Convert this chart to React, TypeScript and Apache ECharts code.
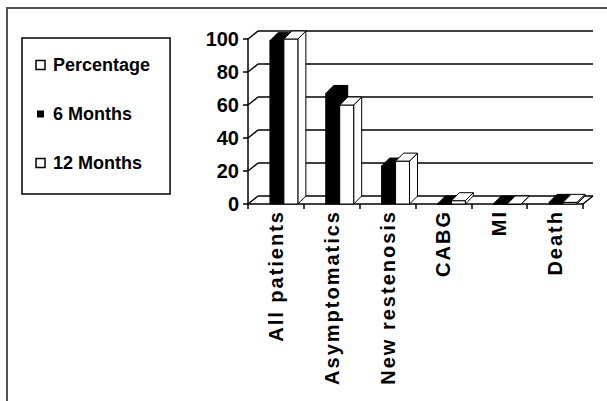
import React, { useEffect, useRef } from 'react';
import * as echarts from 'echarts';

const categories = ['All patients', 'Asymptomatics', 'New restenosis', 'CABG', 'MI', 'Death'];
const percentage: (number | null)[] = [null, null, null, null, null, null];
const sixMonths: number[] = [99, 67, 23, 0, 0, 1];
const twelveMonths: number[] = [100, 60, 26, 2, 0, 1];
const yTicks: number[] = [0, 20, 40, 60, 80, 100];
const seriesNames = ['Percentage', '6 Months', '12 Months'];

const WALL_DX = 10;
const WALL_DY = -8;
const BAR_DX = 8;
const BAR_DY = -8;

function barSeries(name: string, values: (number | null)[], slot: number, fill: string) {
  return {
    type: 'custom',
    name,
    z: 3,
    coordinateSystem: 'cartesian2d',
    itemStyle: { color: fill, borderColor: '#000' },
    encode: { x: 0, y: 1 },
    data: values
      .map((v, i) => [i, v])
      .filter((d) => d[1] !== null),
    renderItem: (params: any, api: any) => {
      const i = api.value(0) as number;
      const v = api.value(1) as number;
      if (v === null || isNaN(v)) return null;
      const b = api.coord([i, 0]);
      const t = api.coord([i, v]);
      const catW = api.size([1, 0])[0];
      const w = catW * 0.25;
      const x0 = b[0] - 1.5 * w + slot * w + 1;
      const x1 = x0 + w;
      const ty = t[1];
      const by = b[1];
      const style = { fill, stroke: '#000', lineWidth: 1 };
      return {
        type: 'group',
        children: [
          {
            type: 'polygon',
            shape: { points: [[x1, ty], [x1 + BAR_DX, ty + BAR_DY], [x1 + BAR_DX, by + BAR_DY], [x1, by]] },
            style,
          },
          { type: 'rect', shape: { x: x0, y: ty, width: w, height: by - ty }, style },
          {
            type: 'polygon',
            shape: { points: [[x0, ty], [x0 + BAR_DX, ty + BAR_DY], [x1 + BAR_DX, ty + BAR_DY], [x1, ty]] },
            style,
          },
        ],
      };
    },
  };
}

export default function App() {
  const ref = useRef<HTMLDivElement>(null);
  useEffect(() => {
    const el = ref.current!;
    const chart = echarts.init(el, null, { renderer: 'svg' });
    const wallSeries = {
      type: 'custom',
      name: '__wall',
      z: 1,
      silent: true,
      coordinateSystem: 'cartesian2d',
      encode: { x: 0, y: 1 },
      data: yTicks.map((v) => [0, v]),
      renderItem: (params: any, api: any) => {
        const v = api.value(1) as number;
        const y = api.coord([0, v])[1];
        const cs = params.coordSys;
        const ls = { stroke: '#000', lineWidth: 1.5 };
        const children: any[] = [
          { type: 'line', shape: { x1: cs.x, y1: y, x2: cs.x + WALL_DX, y2: y + WALL_DY }, style: ls },
          {
            type: 'line',
            shape: { x1: cs.x + WALL_DX, y1: y + WALL_DY, x2: cs.x + cs.width + WALL_DX, y2: y + WALL_DY },
            style: ls,
          },
        ];
        if (v === 0) {
          children.push({
            type: 'line',
            shape: { x1: cs.x + cs.width, y1: y, x2: cs.x + cs.width + WALL_DX, y2: y + WALL_DY },
            style: ls,
          });
        }
        return { type: 'group', children };
      },
    };

    chart.setOption({
      animation: false,
      backgroundColor: '#fff',
      graphic: [
        {
          type: 'rect',
          silent: true,
          z: 0,
          shape: { x: 7, y: 8, width: 640, height: 440 },
          style: { fill: 'none', stroke: '#555', lineWidth: 2 },
        },
      ],
      legend: {
        show: true,
        orient: 'vertical',
        left: 22,
        top: 38,
        selectedMode: false,
        backgroundColor: '#fff',
        borderColor: '#000',
        borderWidth: 1.5,
        borderRadius: 0,
        padding: [17, 20, 21, 13],
        itemGap: 29,
        itemWidth: 9,
        itemHeight: 9,
        textStyle: {
          fontFamily: 'Liberation Sans, Arial, sans-serif',
          fontWeight: 'bold',
          fontSize: 18,
          lineHeight: 20,
          color: '#000',
          padding: [0, 0, 0, 3],
        },
        data: [
          { name: seriesNames[0], icon: 'rect', itemStyle: { color: '#fff', borderColor: '#000', borderWidth: 1.5 } },
          { name: seriesNames[1], icon: 'rect', itemStyle: { color: '#000', borderColor: '#fff', borderWidth: 2 } },
          { name: seriesNames[2], icon: 'rect', itemStyle: { color: '#fff', borderColor: '#000', borderWidth: 1.5 } },
        ],
      },
      grid: { left: 248, right: 24, top: 39, bottom: 197, containLabel: false },
      xAxis: {
        type: 'category',
        data: categories,
        boundaryGap: true,
        axisLine: { show: true, lineStyle: { color: '#000', width: 1.5 } },
        axisTick: { show: true, interval: 0, length: 5, alignWithLabel: false, lineStyle: { color: '#000', width: 1.5 } },
        axisLabel: {
          interval: 0,
          rotate: 90,
          margin: 6,
          padding: [16, 0, 0, 0],
          color: '#000',
          fontFamily: 'Liberation Sans, Arial, sans-serif',
          fontWeight: 'bold',
          fontSize: 20,
        },
        splitLine: { show: false },
      },
      yAxis: {
        type: 'value',
        min: 0,
        max: 100,
        interval: 20,
        axisLine: { show: true, lineStyle: { color: '#000', width: 1.5 } },
        axisTick: { show: true, length: 5, lineStyle: { color: '#000', width: 1.5 } },
        axisLabel: {
          margin: 9,
          color: '#000',
          fontFamily: 'Liberation Sans, Arial, sans-serif',
          fontWeight: 'bold',
          fontSize: 20,
        },
        splitLine: { show: false },
      },
      series: [
        wallSeries,
        barSeries(seriesNames[0], percentage, 0, '#fff'),
        barSeries(seriesNames[1], sixMonths, 1, '#000'),
        barSeries(seriesNames[2], twelveMonths, 2, '#fff'),
      ],
    });

    const applySpacing = () => {
      el.querySelectorAll('text').forEach((t) => {
        const s = (t.textContent || '').trim();
        if (categories.includes(s)) {
          (t as SVGTextElement).style.letterSpacing = '2px';
        }
      });
    };
    applySpacing();
    chart.on('finished', applySpacing);

    return () => {
      chart.dispose();
    };
  }, []);

  return (
    <div
      ref={ref}
      style={{ position: 'fixed', left: 0, top: 0, width: 607, height: 401, background: '#fff' }}
    />
  );
}
